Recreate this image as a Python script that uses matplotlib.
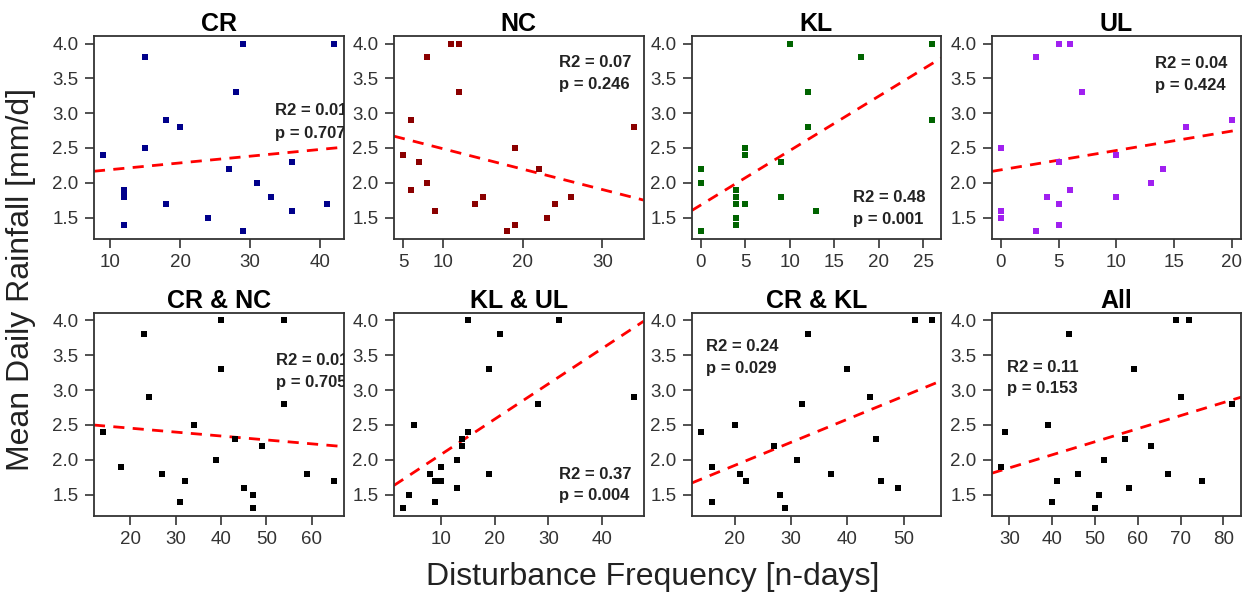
import matplotlib.pyplot as plt
import numpy as np

# rainfall vs disturbance frequency, one panel per region / combination
TITLES = ['CR', 'NC', 'KL', 'UL', 'CR & NC', 'KL & UL', 'CR & KL', 'All']
COLORS = ['#00008B', '#8B0000', '#006400', '#A020F0', 'black', 'black', 'black', 'black']

cr_x = [9, 12, 12, 12, 12, 15, 15, 18, 18, 20, 24, 27, 28, 29, 29, 31, 33, 36, 36, 41, 42]
cr_y = [2.4, 1.9, 1.85, 1.8, 1.4, 3.8, 2.5, 2.9, 1.7, 2.8, 1.5, 2.2, 3.3, 4.0, 1.3, 2.0, 1.8, 2.3, 1.6, 1.7, 4.0]

nc_x = [5, 6, 6, 7, 8, 8, 9, 11, 12, 12, 14, 15, 18, 19, 19, 22, 23, 24, 26, 34]
nc_y = [2.4, 2.9, 1.9, 2.3, 3.8, 2.0, 1.6, 4.0, 4.0, 3.3, 1.7, 1.8, 1.3, 1.4, 2.5, 2.2, 1.5, 1.7, 1.8, 2.8]

kl_x = [0, 0, 0, 4, 4, 4, 4, 4, 5, 5, 5, 9, 9, 10, 12, 12, 13, 18, 26, 26]
kl_y = [1.3, 2.0, 2.2, 1.9, 1.8, 1.7, 1.5, 1.4, 2.5, 2.4, 1.7, 2.3, 1.8, 4.0, 3.3, 2.8, 1.6, 3.8, 4.0, 2.9]

ul_x = [0, 0, 0, 3, 3, 4, 5, 5, 5, 5, 6, 6, 7, 10, 10, 13, 14, 16, 20]
ul_y = [2.5, 1.6, 1.5, 3.8, 1.3, 1.8, 4.0, 2.3, 1.7, 1.4, 4.0, 1.9, 3.3, 2.4, 1.8, 2.0, 2.2, 2.8, 2.9]

crnc_x = [14, 18, 23, 24, 27, 31, 32, 34, 39, 40, 40, 43, 45, 47, 47, 49, 54, 54, 59, 65]
crnc_y = [2.4, 1.9, 3.8, 2.9, 1.8, 1.4, 1.7, 2.5, 2.0, 4.0, 3.3, 2.3, 1.6, 1.5, 1.3, 2.2, 4.0, 2.8, 1.8, 1.7]

klul_x = [3, 4, 5, 8, 9, 9, 10, 10, 13, 13, 14, 14, 15, 15, 19, 19, 21, 28, 32, 46]
klul_y = [1.3, 1.5, 2.5, 1.8, 1.4, 1.7, 1.9, 1.7, 2.0, 1.6, 2.3, 2.2, 4.0, 2.4, 3.3, 1.8, 3.8, 2.8, 4.0, 2.9]

crkl_x = [14, 16, 16, 20, 21, 22, 27, 28, 29, 31, 32, 33, 37, 40, 44, 45, 46, 49, 52, 55]
crkl_y = [2.4, 1.9, 1.4, 2.5, 1.8, 1.7, 2.2, 1.5, 1.3, 2.0, 2.8, 3.8, 1.8, 3.3, 2.9, 2.3, 1.7, 1.6, 4.0, 4.0]

all_x = [28, 29, 39, 40, 41, 44, 46, 50, 51, 52, 57, 58, 59, 63, 67, 69, 70, 72, 75, 82]
all_y = [1.9, 2.4, 2.5, 1.4, 1.7, 3.8, 1.8, 1.3, 1.5, 2.0, 2.3, 1.6, 3.3, 2.2, 1.8, 4.0, 2.9, 4.0, 1.7, 2.8]

XS = [cr_x, nc_x, kl_x, ul_x, crnc_x, klul_x, crkl_x, all_x]
YS = [cr_y, nc_y, kl_y, ul_y, crnc_y, klul_y, crkl_y, all_y]

R2_LABELS = ['R2 = 0.01', 'R2 = 0.07', 'R2 = 0.48', 'R2 = 0.04',
             'R2 = 0.01', 'R2 = 0.37', 'R2 = 0.24', 'R2 = 0.11']
P_LABELS = ['p = 0.707', 'p = 0.246', 'p = 0.001', 'p = 0.424',
            'p = 0.705', 'p = 0.004', 'p = 0.029', 'p = 0.153']
# where the stats text sits (axes fraction: left edge, R2 line, p line)
TEXT_POS = [(0.724, 0.635, 0.52), (0.66, 0.868, 0.759), (0.646, 0.203, 0.094), (0.655, 0.865, 0.754),
            (0.73, 0.768, 0.657), (0.66, 0.202, 0.099), (0.056, 0.834, 0.728), (0.06, 0.733, 0.626)]

XTICKS = [[10, 20, 30, 40], [5, 10, 20, 30], [0, 5, 10, 15, 20, 25], [0, 5, 10, 15, 20],
          [20, 30, 40, 50, 60], [10, 20, 30, 40], [20, 30, 40, 50], [30, 40, 50, 60, 70, 80]]

plt.rcParams['font.family'] = ['Liberation Sans', 'DejaVu Sans']

fig = plt.figure(figsize=(12.51, 5.95), dpi=100)

lefts = [0.0751, 0.3149, 0.5529, 0.7927]
bottoms = [0.5983, 0.1328]
w, h = 0.1995, 0.3412

ylo, yhi = 1.3, 4.0
ypad = 0.04 * (yhi - ylo)

for i in range(8):
    ax = fig.add_axes([lefts[i % 4], bottoms[i // 4], w, h])
    x = np.array(XS[i], dtype=float)
    y = np.array(YS[i], dtype=float)
    xpad = 0.04 * (x.max() - x.min())
    xlim = (x.min() - xpad, x.max() + xpad)

    ax.scatter(x, y, marker='s', s=22, color=COLORS[i], linewidths=0, zorder=3)

    slope, icpt = np.polyfit(x, y, 1)
    xx = np.array(xlim)
    ax.plot(xx, icpt + slope * xx, color='red', lw=2, linestyle=(0, (4, 3)), zorder=2)

    ax.set_xlim(xlim)
    ax.set_ylim(ylo - ypad, yhi + ypad)
    ax.set_xticks(XTICKS[i])
    ax.set_yticks([1.5, 2.0, 2.5, 3.0, 3.5, 4.0])
    ax.set_yticklabels(['1.5', '2.0', '2.5', '3.0', '3.5', '4.0'])
    ax.tick_params(direction='out', length=6.5, width=1.2, labelsize=13.5,
                   colors='#333333', labelcolor='#333333', pad=4.5)
    for sp in ax.spines.values():
        sp.set_linewidth(1.3)
        sp.set_color('#333333')

    ax.set_title(TITLES[i], fontsize=18, fontweight='bold', pad=3)

    tx, ty1, ty2 = TEXT_POS[i]
    ax.text(tx, ty1, R2_LABELS[i], transform=ax.transAxes, fontsize=12,
            fontweight='bold', color='#222222', va='center', clip_on=True)
    ax.text(tx, ty2, P_LABELS[i], transform=ax.transAxes, fontsize=12,
            fontweight='bold', color='#222222', va='center', clip_on=True)

fig.text(0.017, 0.53, 'Mean Daily Rainfall [mm/d]', rotation=90, fontsize=23,
         va='center', ha='center', color='#222222')
fig.text(0.522, 0.03, 'Disturbance Frequency [n-days]', fontsize=23,
         va='center', ha='center', color='#222222')

fig.savefig('out.png', dpi=100)
